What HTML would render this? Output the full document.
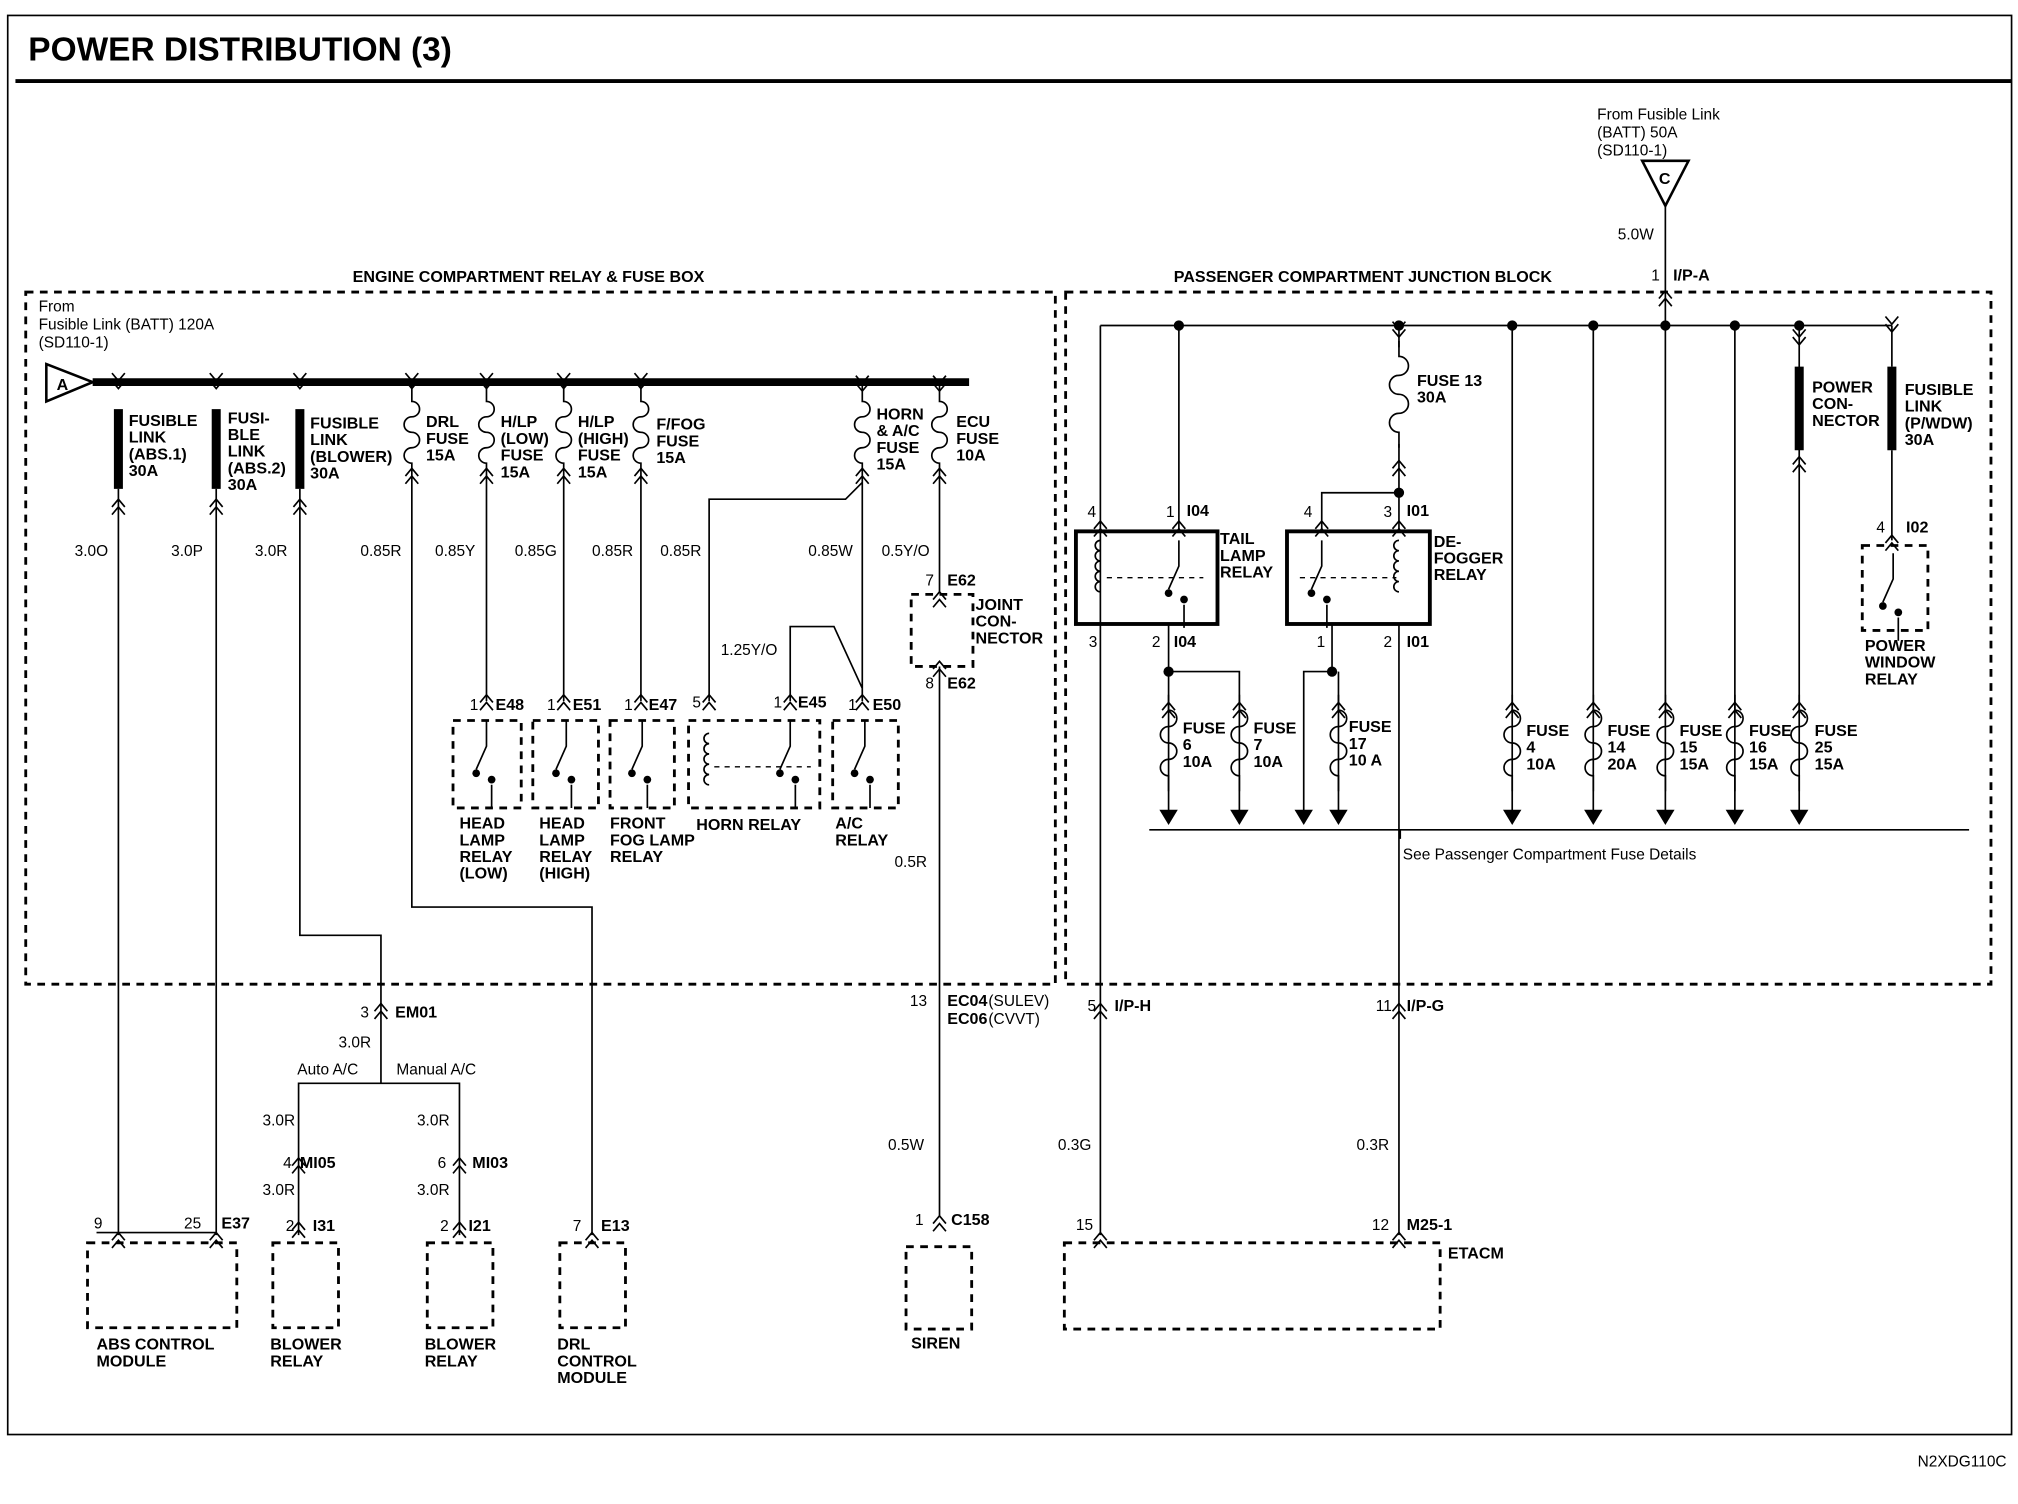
<!DOCTYPE html>
<html><head><meta charset="utf-8"><style>
html,body{margin:0;padding:0;background:#fff;width:2018px;height:1504px;overflow:hidden}
svg{display:block}
text{font-family:"Liberation Sans",sans-serif;fill:#000}
.b{font-weight:bold;font-size:12.5px}
.n{font-size:12px}
</style></head><body>
<svg id="s" width="2018" height="1504" viewBox="0 0 1568 1169" preserveAspectRatio="none" xmlns="http://www.w3.org/2000/svg">
<g fill="none" stroke="#000" stroke-width="1.3">
<rect x="6" y="12" width="1557" height="1103"/>
<line x1="12" y1="63" x2="1563" y2="63" stroke-width="3"/>
<g stroke-dasharray="6,5" stroke-width="2.2">
<rect x="20" y="227" width="800" height="538"/>
<rect x="828" y="227" width="719" height="538"/>
<rect x="708" y="462" width="48" height="56"/>
<rect x="352" y="560" width="53" height="68"/><rect x="414" y="560" width="51" height="68"/>
<rect x="474" y="560" width="50" height="68"/><rect x="535" y="560" width="102" height="68"/>
<rect x="647" y="560" width="51" height="68"/><rect x="1447" y="424" width="51" height="66"/>
<rect x="68" y="966" width="116" height="66"/><rect x="212" y="966" width="51" height="66"/>
<rect x="332" y="966" width="51" height="66"/><rect x="435" y="966" width="51" height="66"/>
<rect x="704" y="969" width="51" height="64"/><rect x="827" y="966" width="292" height="67"/>
</g>
<g stroke-dasharray="4,4" stroke-width="1">
<line x1="555" y1="596" x2="630" y2="596"/><line x1="860" y1="449" x2="935" y2="449"/><line x1="1010" y1="449" x2="1085" y2="449"/>
</g>
<rect x="836" y="413" width="110" height="72" stroke-width="3"/>
<rect x="1000" y="413" width="111" height="72" stroke-width="3"/>
<line x1="72" y1="297" x2="753" y2="297" stroke-width="6"/>
<polygon points="36,283 72,297 36,312" stroke-width="2"/>
<polygon points="1276,125 1312,125 1294,160" stroke-width="2"/>
<g stroke-width="7"><line x1="92" y1="318" x2="92" y2="380"/><line x1="168" y1="318" x2="168" y2="380"/><line x1="233" y1="318" x2="233" y2="380"/><line x1="1398" y1="285" x2="1398" y2="350"/><line x1="1470" y1="285" x2="1470" y2="350"/></g>
<path d="M92 380V960M168 380V960M233 380V727H296V842M296 842H232V960M296 842H357V960M320 370V705H460V960M378 370V545M438 370V545M498 370V545M670 370V545M670 375L657 388H551V545M614 545V487H648L670 535M730 370V460M730 518V945M75 958H168"/>
<path d="M1294 160V253M855 253H1470M855 253V960M916 253V413M1087 253V270M1087 345V413M1027 413V383H1087M1175 253V640M1238 253V640M1294 253V640M1348 253V640M1398 253V640M1470 253V285M1470 350V420M908 485V640M908 522H963V640M1035 485V522H1013V640M1040 522V640M1087 485V960M893 645H1530M1088 645V652M855 780V960"/>
</g>
<g id="dots" fill="#000"></g>
<g id="fx" fill="none" stroke="#000" stroke-width="1.3"></g>
<text x="22" y="47" style="font-weight:bold;font-size:26px">POWER DISTRIBUTION (3)</text>
<text x="1490" y="1140" class="n">N2XDG110C</text>
<text x="274" y="219" class="b">ENGINE COMPARTMENT RELAY &amp; FUSE BOX</text>
<text x="912" y="219" class="b">PASSENGER COMPARTMENT JUNCTION BLOCK</text>
<text class="n"><tspan x="30" y="242">From</tspan><tspan x="30" y="256">Fusible Link (BATT) 120A</tspan><tspan x="30" y="270">(SD110-1)</tspan></text>
<text x="44" y="303" class="b">A</text><text x="1289" y="143" class="b">C</text>
<text class="n"><tspan x="1241" y="93">From Fusible Link</tspan><tspan x="1241" y="107">(BATT) 50A</tspan><tspan x="1241" y="121">(SD110-1)</tspan></text>
<text x="1257" y="186" class="n">5.0W</text><text x="1283" y="218" class="n">1</text><text x="1300" y="218" class="b">I/P-A</text>
<g class="b">
<text><tspan x="100" y="331">FUSIBLE</tspan><tspan x="100" y="344">LINK</tspan><tspan x="100" y="357">(ABS.1)</tspan><tspan x="100" y="370">30A</tspan></text>
<text><tspan x="177" y="329">FUSI-</tspan><tspan x="177" y="342">BLE</tspan><tspan x="177" y="355">LINK</tspan><tspan x="177" y="368">(ABS.2)</tspan><tspan x="177" y="381">30A</tspan></text>
<text><tspan x="241" y="333">FUSIBLE</tspan><tspan x="241" y="346">LINK</tspan><tspan x="241" y="359">(BLOWER)</tspan><tspan x="241" y="372">30A</tspan></text>
<text><tspan x="331" y="332">DRL</tspan><tspan x="331" y="345">FUSE</tspan><tspan x="331" y="358">15A</tspan></text>
<text><tspan x="389" y="332">H/LP</tspan><tspan x="389" y="345">(LOW)</tspan><tspan x="389" y="358">FUSE</tspan><tspan x="389" y="371">15A</tspan></text>
<text><tspan x="449" y="332">H/LP</tspan><tspan x="449" y="345">(HIGH)</tspan><tspan x="449" y="358">FUSE</tspan><tspan x="449" y="371">15A</tspan></text>
<text><tspan x="510" y="334">F/FOG</tspan><tspan x="510" y="347">FUSE</tspan><tspan x="510" y="360">15A</tspan></text>
<text><tspan x="681" y="326">HORN</tspan><tspan x="681" y="339">&amp; A/C</tspan><tspan x="681" y="352">FUSE</tspan><tspan x="681" y="365">15A</tspan></text>
<text><tspan x="743" y="332">ECU</tspan><tspan x="743" y="345">FUSE</tspan><tspan x="743" y="358">10A</tspan></text>
<text><tspan x="758" y="474">JOINT</tspan><tspan x="758" y="487">CON-</tspan><tspan x="758" y="500">NECTOR</tspan></text>
<text><tspan x="357" y="644">HEAD</tspan><tspan x="357" y="657">LAMP</tspan><tspan x="357" y="670">RELAY</tspan><tspan x="357" y="683">(LOW)</tspan></text>
<text><tspan x="419" y="644">HEAD</tspan><tspan x="419" y="657">LAMP</tspan><tspan x="419" y="670">RELAY</tspan><tspan x="419" y="683">(HIGH)</tspan></text>
<text><tspan x="474" y="644">FRONT</tspan><tspan x="474" y="657">FOG LAMP</tspan><tspan x="474" y="670">RELAY</tspan></text>
<text x="541" y="645">HORN RELAY</text>
<text><tspan x="649" y="644">A/C</tspan><tspan x="649" y="657">RELAY</tspan></text>
<text x="736" y="455">E62</text><text x="736" y="535">E62</text>
<text x="385" y="552">E48</text><text x="445" y="552">E51</text><text x="504" y="552">E47</text><text x="620" y="550">E45</text><text x="678" y="552">E50</text>
<text x="307" y="791">EM01</text><text x="243" y="957">I31</text><text x="364" y="957">I21</text><text x="233" y="908">MI05</text><text x="367" y="908">MI03</text>
<text x="172" y="955">E37</text><text x="467" y="957">E13</text><text x="739" y="952">C158</text>
<text x="736" y="782">EC04</text><text x="736" y="796">EC06</text>
<text><tspan x="75" y="1049">ABS CONTROL</tspan><tspan x="75" y="1062">MODULE</tspan></text>
<text><tspan x="210" y="1049">BLOWER</tspan><tspan x="210" y="1062">RELAY</tspan></text>
<text><tspan x="330" y="1049">BLOWER</tspan><tspan x="330" y="1062">RELAY</tspan></text>
<text><tspan x="433" y="1049">DRL</tspan><tspan x="433" y="1062">CONTROL</tspan><tspan x="433" y="1075">MODULE</tspan></text>
<text x="708" y="1048">SIREN</text>
<text x="1125" y="978">ETACM</text><text x="1093" y="956">M25-1</text>
<text x="866" y="786">I/P-H</text><text x="1093" y="786">I/P-G</text>
<text x="922" y="401">I04</text><text x="1093" y="401">I01</text><text x="912" y="503">I04</text><text x="1093" y="503">I01</text><text x="1481" y="414">I02</text>
<text><tspan x="948" y="423">TAIL</tspan><tspan x="948" y="436">LAMP</tspan><tspan x="948" y="449">RELAY</tspan></text>
<text><tspan x="1114" y="425">DE-</tspan><tspan x="1114" y="438">FOGGER</tspan><tspan x="1114" y="451">RELAY</tspan></text>
<text><tspan x="1101" y="300">FUSE 13</tspan><tspan x="1101" y="313">30A</tspan></text>
<text><tspan x="1408" y="305">POWER</tspan><tspan x="1408" y="318">CON-</tspan><tspan x="1408" y="331">NECTOR</tspan></text>
<text><tspan x="1480" y="307">FUSIBLE</tspan><tspan x="1480" y="320">LINK</tspan><tspan x="1480" y="333">(P/WDW)</tspan><tspan x="1480" y="346">30A</tspan></text>
<text><tspan x="1449" y="506">POWER</tspan><tspan x="1449" y="519">WINDOW</tspan><tspan x="1449" y="532">RELAY</tspan></text>
<text><tspan x="919" y="570">FUSE</tspan><tspan x="919" y="583">6</tspan><tspan x="919" y="596">10A</tspan></text>
<text><tspan x="974" y="570">FUSE</tspan><tspan x="974" y="583">7</tspan><tspan x="974" y="596">10A</tspan></text>
<text><tspan x="1048" y="569">FUSE</tspan><tspan x="1048" y="582">17</tspan><tspan x="1048" y="595">10 A</tspan></text>
<text><tspan x="1186" y="572">FUSE</tspan><tspan x="1186" y="585">4</tspan><tspan x="1186" y="598">10A</tspan></text>
<text><tspan x="1249" y="572">FUSE</tspan><tspan x="1249" y="585">14</tspan><tspan x="1249" y="598">20A</tspan></text>
<text><tspan x="1305" y="572">FUSE</tspan><tspan x="1305" y="585">15</tspan><tspan x="1305" y="598">15A</tspan></text>
<text><tspan x="1359" y="572">FUSE</tspan><tspan x="1359" y="585">16</tspan><tspan x="1359" y="598">15A</tspan></text>
<text><tspan x="1410" y="572">FUSE</tspan><tspan x="1410" y="585">25</tspan><tspan x="1410" y="598">15A</tspan></text>
</g>
<g class="n">
<text x="58" y="432">3.0O</text><text x="133" y="432">3.0P</text><text x="198" y="432">3.0R</text><text x="280" y="432">0.85R</text><text x="338" y="432">0.85Y</text><text x="400" y="432">0.85G</text><text x="460" y="432">0.85R</text><text x="513" y="432">0.85R</text><text x="628" y="432">0.85W</text><text x="685" y="432">0.5Y/O</text>
<text x="560" y="509">1.25Y/O</text><text x="695" y="674">0.5R</text>
<text x="719" y="455">7</text><text x="719" y="535">8</text>
<text x="365" y="552">1</text><text x="425" y="552">1</text><text x="485" y="552">1</text><text x="538" y="550">5</text><text x="601" y="550">1</text><text x="659" y="552">1</text>
<text x="280" y="791">3</text><text x="263" y="814">3.0R</text><text x="231" y="835">Auto A/C</text><text x="308" y="835">Manual A/C</text>
<text x="204" y="875">3.0R</text><text x="324" y="875">3.0R</text><text x="220" y="908">4</text><text x="340" y="908">6</text>
<text x="204" y="929">3.0R</text><text x="324" y="929">3.0R</text>
<text x="222" y="957">2</text><text x="342" y="957">2</text><text x="73" y="955">9</text><text x="143" y="955">25</text><text x="445" y="957">7</text>
<text x="707" y="782">13</text><text x="768" y="782">(SULEV)</text><text x="768" y="796">(CVVT)</text>
<text x="690" y="894">0.5W</text><text x="711" y="952">1</text>
<text x="845" y="786">5</text><text x="1069" y="786">11</text><text x="822" y="894">0.3G</text><text x="1054" y="894">0.3R</text>
<text x="836" y="956">15</text><text x="1066" y="956">12</text>
<text x="845" y="402">4</text><text x="906" y="402">1</text><text x="1013" y="402">4</text><text x="1075" y="402">3</text>
<text x="846" y="503">3</text><text x="895" y="503">2</text><text x="1023" y="503">1</text><text x="1075" y="503">2</text><text x="1458" y="414">4</text>
<text x="1090" y="668">See Passenger Compartment Fuse Details</text>
</g>
</svg>
<script>
var NS="http://www.w3.org/2000/svg",fx=document.getElementById('fx'),dots=document.getElementById('dots');
function p(d,f){var e=document.createElementNS(NS,'path');e.setAttribute('d',d);if(f){e.setAttribute('fill','#000');}fx.appendChild(e);}
function chev(x,y,down){var s=down?-1:1;p('M'+(x-5)+' '+(y+6*s)+'L'+x+' '+y+'L'+(x+5)+' '+(y+6*s)+'M'+(x-5)+' '+(y+12*s)+'L'+x+' '+(y+6*s)+'L'+(x+5)+' '+(y+12*s));}
function fuse(x,y0,y1){var h=(y1-y0-24)/4;var d='M'+x+' '+y0+'V'+(y0+12);var y=y0+12;for(var i=0;i<4;i++){d+='A'+(h/2)+' '+(h/2)+' 0 0 '+(i%2?0:1)+' '+x+' '+(y+h);y+=h;}d+='V'+y1;p(d);}
[[320,300,372],[378,300,372],[438,300,372],[498,300,372],[670,300,372],[730,300,372],[1087,265,348],[908,540,615],[963,540,615],[1040,540,615],[1175,540,615],[1238,540,615],[1294,540,615],[1348,540,615],[1398,540,615]].forEach(function(a){fuse(a[0],a[1],a[2]);});
[[92,302],[168,302],[233,302],[320,302],[378,302],[438,302],[498,302],[670,304],[730,304],[1470,258],[1087,262],[1398,268]].forEach(function(a){chev(a[0],a[1],true);});
[[92,388],[168,388],[233,388],[320,364],[378,364],[438,364],[498,364],[670,364],[730,364],[378,540],[438,540],[498,540],[551,540],[614,540],[670,540],[730,460],[730,514],[296,780],[232,900],[357,900],[232,950],[357,950],[92,958],[168,958],[460,958],[730,945],[855,780],[1087,780],[855,958],[1087,958],[855,405],[916,405],[1027,405],[1087,405],[1087,358],[1398,355],[1470,416],[908,546],[963,546],[1040,546],[1175,546],[1238,546],[1294,546],[1348,546],[1398,546],[1294,226]].forEach(function(a){chev(a[0],a[1],false);});
[908,963,1013,1040,1175,1238,1294,1348,1398].forEach(function(x){p('M'+(x-6)+' 630L'+x+' 640L'+(x+6)+' 630Z',1);});
[[916,253],[1087,253],[1175,253],[1238,253],[1294,253],[1348,253],[1398,253],[1087,383],[908,522],[1035,522]].forEach(function(a){var c=document.createElementNS(NS,'circle');c.setAttribute('cx',a[0]);c.setAttribute('cy',a[1]);c.setAttribute('r',4);dots.appendChild(c);});
[[378,560],[440,560],[499,560],[614,560],[672,560],[916,420],[1027,420],[1471,430]].forEach(function(a){var x=a[0],y=a[1];p('M'+x+' '+y+'V'+(y+20)+'L'+(x-8)+' '+(y+38)+'M'+(x+4)+' '+(y+50)+'V'+(y+68));var c=document.createElementNS(NS,'circle');c.setAttribute('cx',x+4);c.setAttribute('cy',y+46);c.setAttribute('r',3);c.setAttribute('fill','#000');dots.appendChild(c);var c2=document.createElementNS(NS,'circle');c2.setAttribute('cx',x-8);c2.setAttribute('cy',y+41);c2.setAttribute('r',3);c2.setAttribute('fill','#000');dots.appendChild(c2);});
[[551,570],[855,420],[1087,420]].forEach(function(a){var x=a[0],y=a[1],d='M'+x+' '+y;for(var i=0;i<5;i++){d+='a4 4 0 0 0 0 8';}p(d);});
</script>
</body></html>
